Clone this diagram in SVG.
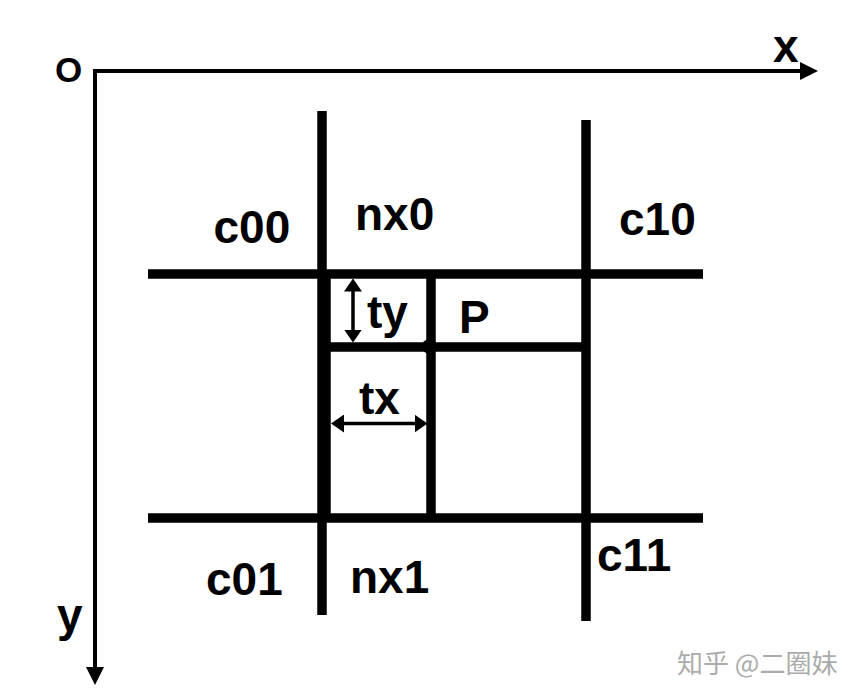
<svg xmlns="http://www.w3.org/2000/svg" width="858" height="698" viewBox="0 0 858 698">
<defs>
<style>
.lbl{font-family:"Liberation Sans",Arial,Helvetica,sans-serif;font-weight:bold;font-size:46px;fill:#000}
.grid{stroke:#000;stroke-width:9.5;fill:none;stroke-linecap:butt}
.axis{stroke:#000;stroke-width:4;fill:none}
.dim{stroke:#000;stroke-width:3.5;fill:none}
.wm{font-family:"Noto Sans CJK SC","Noto Sans",sans-serif;font-size:26px;fill:#ababab}
</style>
<marker id="axisHead" markerUnits="userSpaceOnUse" viewBox="0 0 18 18" markerWidth="18" markerHeight="18" refX="2" refY="9" orient="auto">
<path d="M0,0 L18,9 L0,18 Z" fill="#000"/>
</marker>
<marker id="dimHead" markerUnits="userSpaceOnUse" viewBox="0 0 13 18" markerWidth="13" markerHeight="18" refX="2" refY="9" orient="auto-start-reverse">
<path d="M0,0 L13,9 L0,18 Z" fill="#000"/>
</marker>
</defs>
<rect width="858" height="698" fill="#fff"/>
<g id="connectors">
<line class="axis" x1="93" y1="71" x2="802" y2="71" marker-end="url(#axisHead)"/>
<line class="axis" x1="95" y1="69" x2="95" y2="669" marker-end="url(#axisHead)"/>
<line class="grid" x1="322" y1="111" x2="322" y2="615"/>
<line class="grid" x1="586" y1="120" x2="586" y2="621"/>
<line class="grid" x1="148" y1="274" x2="703" y2="274"/>
<line class="grid" x1="148" y1="518" x2="703" y2="518"/>
<line class="grid" x1="326" y1="274" x2="326" y2="518"/>
<line class="grid" x1="431" y1="274" x2="431" y2="518"/>
<line class="grid" x1="326" y1="347" x2="586" y2="347"/>
<line class="dim" x1="353" y1="289.5" x2="353" y2="331.5" marker-start="url(#dimHead)" marker-end="url(#dimHead)"/>
<line class="dim" x1="342" y1="423.5" x2="416.5" y2="423.5" marker-start="url(#dimHead)" marker-end="url(#dimHead)"/>
</g>
<g id="P-point"><circle cx="429.5" cy="346.5" r="7.5" fill="#000"/></g>
<g id="labels">
<text id="origin" class="lbl" x="55" y="82" style="font-size:35px">O</text>
<text id="x-label" class="lbl" x="773" y="62">x</text>
<text id="y-label" class="lbl" x="57" y="631">y</text>
<text id="c00" class="lbl" x="213.5" y="243">c00</text>
<text id="nx0" class="lbl" x="355" y="230">nx0</text>
<text id="c10" class="lbl" x="619" y="235">c10</text>
<text id="ty" class="lbl" x="367" y="328">ty</text>
<text id="P" class="lbl" x="459" y="333">P</text>
<text id="tx" class="lbl" x="359" y="414">tx</text>
<text id="c01" class="lbl" x="206" y="595">c01</text>
<text id="nx1" class="lbl" x="350" y="593">nx1</text>
<text id="c11" class="lbl" x="597" y="571">c11</text>
</g>
<g id="watermark"><text class="wm" x="677" y="673">知乎 @二圈妹</text></g>
</svg>
